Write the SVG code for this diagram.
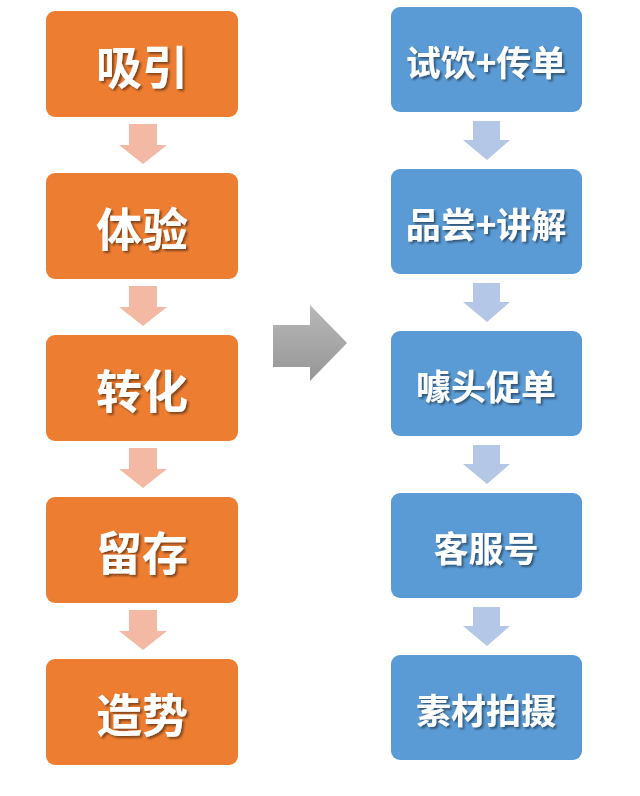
<svg xmlns="http://www.w3.org/2000/svg" width="640" height="796" viewBox="0 0 640 796">
<defs>
<filter id="ts" x="-20%" y="-20%" width="140%" height="140%">
<feDropShadow dx="2" dy="2" stdDeviation="1" flood-color="#000" flood-opacity="0.45"/>
</filter>
<linearGradient id="gg" x1="0" y1="0" x2="0" y2="1">
<stop offset="0" stop-color="#B8B8B8"/>
<stop offset="1" stop-color="#969696"/>
</linearGradient>
</defs>
<style>
.lb{fill:#ED7D31}
.rb{fill:#5B9BD5}
.lt{font-family:"Noto Sans CJK SC","Noto Sans",sans-serif;font-weight:bold;font-size:46px;fill:#fff;text-anchor:middle;dominant-baseline:central;filter:url(#ts)}
.rt{font-family:"Noto Sans CJK SC","Noto Sans",sans-serif;font-weight:bold;font-size:35px;fill:#fff;text-anchor:middle;dominant-baseline:central;filter:url(#ts)}
.la{fill:#F4B9A4}
.ra{fill:#B4C7E7}
</style>
<rect width="640" height="796" fill="#fff"/>
<g id="connectors">
<path class="la" d="M129,124H157V145H167L143,164L119,145H129Z"/>
<path class="la" d="M129,286H157V307H167L143,326L119,307H129Z"/>
<path class="la" d="M129,448H157V469H167L143,488L119,469H129Z"/>
<path class="la" d="M129,610H157V631H167L143,650L119,631H129Z"/>
<path class="ra" d="M473,121H500V140H510L487,160L463,140H473Z"/>
<path class="ra" d="M473,283H500V302H510L487,322L463,302H473Z"/>
<path class="ra" d="M473,445H500V464H510L487,484L463,464H473Z"/>
<path class="ra" d="M473,607H500V626H510L487,646L463,626H473Z"/>
<path fill="url(#gg)" d="M273,325H310V305L347,343L310,381V367H273Z"/>
</g>
<g id="l1"><rect class="lb" x="46" y="11" width="192" height="106" rx="9"/><text class="lt" x="142" y="64">吸引</text></g>
<g id="l2"><rect class="lb" x="46" y="173" width="192" height="106" rx="9"/><text class="lt" x="142" y="226">体验</text></g>
<g id="l3"><rect class="lb" x="46" y="335" width="192" height="106" rx="9"/><text class="lt" x="142" y="388">转化</text></g>
<g id="l4"><rect class="lb" x="46" y="497" width="192" height="106" rx="9"/><text class="lt" x="142" y="550">留存</text></g>
<g id="l5"><rect class="lb" x="46" y="659" width="192" height="106" rx="9"/><text class="lt" x="142" y="712">造势</text></g>
<g id="r1"><rect class="rb" x="391" y="7" width="191" height="105" rx="9"/><text class="rt" x="486" y="60">试饮+传单</text></g>
<g id="r2"><rect class="rb" x="391" y="169" width="191" height="105" rx="9"/><text class="rt" x="486" y="222">品尝+讲解</text></g>
<g id="r3"><rect class="rb" x="391" y="331" width="191" height="105" rx="9"/><text class="rt" x="486" y="384">噱头促单</text></g>
<g id="r4"><rect class="rb" x="391" y="493" width="191" height="105" rx="9"/><text class="rt" x="486" y="546">客服号</text></g>
<g id="r5"><rect class="rb" x="391" y="655" width="191" height="105" rx="9"/><text class="rt" x="486" y="708">素材拍摄</text></g>
</svg>
